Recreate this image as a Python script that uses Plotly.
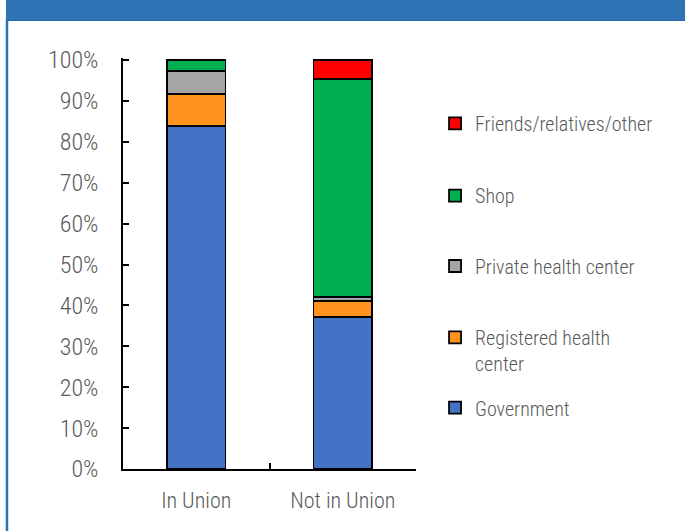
import plotly.graph_objects as go

categories = ["In Union", "Not in Union"]
series_names = ["Government", "Registered health center", "Private health center", "Shop", "Friends/relatives/other"]
legend_labels = ["Government", "Registered health<br>center", "Private health center", "Shop", "Friends/relatives/other"]
government = [0.839, 0.372]
registered = [0.078, 0.039]
private = [0.057, 0.009]
shop = [0.026, 0.533]
friends = [0.0, 0.047]
colors = ["#4472C4", "#FF931E", "#A5A5A5", "#00B050", "#FF0000"]
y_ticks = [0, 0.1, 0.2, 0.3, 0.4, 0.5, 0.6, 0.7, 0.8, 0.9, 1.0]

values = [government, registered, private, shop, friends]
legend_ids = ["legend5", "legend4", "legend3", "legend2", "legend"]

fig = go.Figure()
for name, lab, vals, col, lid in zip(series_names, legend_labels, values, colors, legend_ids):
    fig.add_trace(go.Bar(
        x=categories, y=vals, name=lab, marker_color=col,
        marker_line_color="#000000", marker_line_width=1.8,
        width=0.4, legend=lid,
    ))

font_family = "Roboto Condensed, Liberation Sans Narrow, sans-serif"
txt = "#595959"

# plot area in pixels: x 123..416, y 60..469
def py(p):
    return (469 - p) / 409

leg_common = dict(x=1.065, xanchor="left", yanchor="middle", bgcolor="rgba(0,0,0,0)",
                  font=dict(family=font_family, size=20, color=txt, weight=300), itemwidth=30, valign="top")
fig.update_layout(
    barmode="stack",
    width=685, height=531,
    margin=dict(l=123, r=269, t=58, b=62),
    paper_bgcolor="white", plot_bgcolor="white",
    showlegend=True,
    legend=dict(y=py(125), **leg_common),
    legend2=dict(y=py(197), **leg_common),
    legend3=dict(y=py(267), **leg_common),
    legend4=dict(y=py(351), **leg_common),
    legend5=dict(y=py(408), **leg_common),
    xaxis=dict(
        type="category", tickson="boundaries", ticks="inside", ticklen=6,
        tickcolor="#000000", tickwidth=1.5,
        showline=True, linecolor="#000000", linewidth=1.5,
        showgrid=False, zeroline=False, tickangle=0,
        tickfont=dict(family=font_family, size=22, color=txt, weight=300),
        ticklabelstandoff=11,
    ),
    yaxis=dict(
        range=[0, 1.005], tickvals=y_ticks, tickformat=".0%",
        ticks="inside", ticklen=6, tickcolor="#000000", tickwidth=1.5,
        showline=True, linecolor="#000000", linewidth=1.5,
        showgrid=False, zeroline=False,
        tickfont=dict(family=font_family, size=24, color=txt, weight=300),
        ticklabelstandoff=18,
    ),
    shapes=[
        dict(type="rect", xref="paper", yref="paper", layer="above",
             x0=(6 - 123) / 293, x1=(700 - 123) / 293,
             y0=py(23), y1=py(-10),
             fillcolor="#2E74B5", line=dict(width=0)),
        dict(type="line", xref="paper", yref="paper", layer="above",
             x0=(6 - 123) / 293, x1=(700 - 123) / 293,
             y0=py(22.5), y1=py(22.5),
             line=dict(color="#2A6AA6", width=1.2)),
        dict(type="line", xref="paper", yref="paper",
             x0=(7 - 123) / 293, x1=(7 - 123) / 293,
             y0=py(600), y1=py(20),
             line=dict(color="#2E74B5", width=2.5)),
    ],
)

fig.write_html("out.html", config={"displayModeBar": False},
               post_script="document.body.style.margin='0';document.body.style.overflow='hidden';")
